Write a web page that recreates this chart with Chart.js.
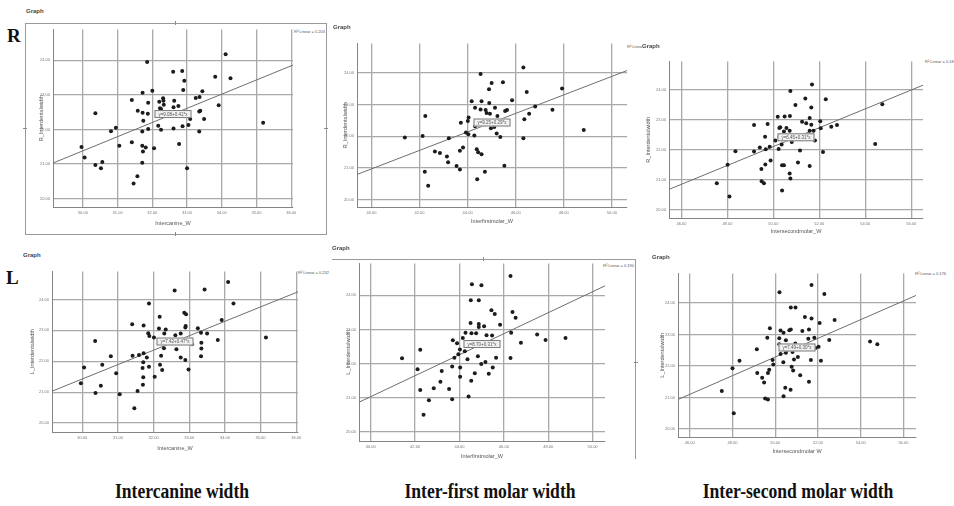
<!DOCTYPE html>
<html>
<head>
<meta charset="utf-8">
<script src="https://cdn.jsdelivr.net/npm/chart.js@4.4.1/dist/chart.umd.min.js"></script>
<style>
  body { margin: 0; background: #fff; width: 954px; height: 506px; position: relative; overflow: hidden; font-family: "Liberation Sans", Arial, sans-serif; }
  canvas, .t, .frame, .mark { position: absolute; }
  .big { font-family: "Liberation Serif", serif; font-weight: bold; font-size: 19px; line-height: 1; color: #111; }
  .cap { font-family: "Liberation Serif", serif; font-weight: bold; font-size: 20px; line-height: 1; color: #111; width: 300px; text-align: center; transform: scaleX(0.88); transform-origin: 150px 0; }
  .graph { font-size: 6px; font-weight: bold; line-height: 1; color: #444; background: #fff; padding-right: 1px; z-index: 2; }
  .leg { font-size: 4px; line-height: 1; color: #555; white-space: nowrap; }
  .frame { border-color: #9a9a9a; border-style: solid; border-width: 0; }
  .mark { background: #8a8a8a; }
</style>
</head>
<body>
<div class="t big" style="left:7px;top:26px">R</div>
<div class="t big" style="left:6px;top:268px">L</div>

<div class="t graph" style="left:26px;top:8px">Graph</div>
<div class="t graph" style="left:333px;top:24px">Graph</div>
<div class="t graph" style="left:642px;top:43px">Graph</div>
<div class="t graph" style="left:23px;top:252px">Graph</div>
<div class="t graph" style="left:332px;top:245px">Graph</div>
<div class="t graph" style="left:652px;top:254px">Graph</div>

<div class="t leg" style="left:294px;top:30px">R² Linear = 0.203</div>
<div class="t leg" style="left:627px;top:45px">R² Linear = 0.158</div>
<div class="t leg" style="left:925px;top:60px">R² Linear = 0.187</div>
<div class="t leg" style="left:298px;top:271px">R² Linear = 0.232</div>
<div class="t leg" style="left:603px;top:264px">R² Linear = 0.190</div>
<div class="t leg" style="left:915px;top:272px">R² Linear = 0.176</div>

<!-- editor frames around two of the graphs -->
<div class="frame" style="left:25px;top:23px;width:300px;height:210px;border-width:1px"></div>
<div class="mark" style="left:175px;top:21px;width:1px;height:4px"></div>
<div class="mark" style="left:175px;top:232px;width:1px;height:4px"></div>
<div class="mark" style="left:23px;top:128px;width:4px;height:1px"></div>
<div class="mark" style="left:324px;top:128px;width:4px;height:1px"></div>
<div class="frame" style="left:332px;top:259px;width:303px;height:199px;border-top-width:1px;border-right-width:1px"></div>
<div class="mark" style="left:483px;top:257px;width:1px;height:4px"></div>
<div class="mark" style="left:634px;top:362px;width:4px;height:1px"></div>

<div class="t cap" style="left:32px;top:481px">Intercanine width</div>
<div class="t cap" style="left:340px;top:481px">Inter-first molar width</div>
<div class="t cap" style="left:648px;top:481px">Inter-second molar width</div>

<script>
// tick labels
const canineTicks = [30, 31, 32, 33, 34, 35, 36]
const firstMolarTicks = [40, 42, 44, 46, 48, 50]
const secondMolarTicks = [46, 48, 50, 52, 54, 56]
const sideTicks = [20, 21, 22, 23, 24]

// right side
const rCanineX = [34.11, 31.85, 32.60, 32.86, 32.92, 33.81, 34.25, 32.00, 31.72, 32.89, 33.44, 33.36, 33.25, 31.41, 31.88, 32.31, 32.32, 32.20, 32.33, 32.63, 32.75, 32.61, 33.91, 30.36, 31.58, 31.72, 31.87, 32.25, 32.22, 33.35, 33.38, 33.49, 33.09, 31.74, 35.19, 30.95, 30.81, 31.88, 31.71, 32.17, 32.25, 32.61, 32.87, 33.04, 33.35, 29.96, 31.05, 31.41, 31.71, 31.81, 32.05, 31.73, 32.77, 30.05, 30.36, 30.56, 30.52, 31.71, 33.00, 31.57, 31.46]
const rCanineY = [24.17, 23.95, 23.67, 23.69, 23.41, 23.52, 23.48, 23.12, 23.06, 23.14, 23.10, 22.94, 22.91, 22.85, 22.77, 22.90, 22.83, 22.80, 22.71, 22.83, 22.68, 22.64, 22.70, 22.47, 22.54, 22.48, 22.45, 22.59, 22.61, 22.52, 22.54, 22.30, 22.30, 22.25, 22.19, 22.05, 21.95, 22.01, 21.94, 22.11, 21.99, 22.03, 22.09, 22.13, 21.94, 21.49, 21.53, 21.63, 21.53, 21.48, 21.46, 21.36, 21.58, 21.19, 20.97, 21.06, 20.88, 21.04, 20.88, 20.65, 20.44]
const rCanineFitX = [29.14, 36.05]
const rCanineFitY = [21.03, 23.86]

const rFirstX = [46.32, 44.54, 45.00, 45.47, 44.89, 46.46, 47.93, 44.17, 44.58, 44.90, 45.85, 46.81, 47.53, 44.31, 44.54, 44.75, 45.14, 44.79, 44.93, 45.24, 45.56, 45.64, 42.24, 44.04, 43.72, 44.01, 46.36, 46.56, 44.31, 44.97, 45.11, 48.83, 41.39, 42.13, 43.22, 43.93, 44.03, 44.28, 45.21, 45.36, 46.32, 42.64, 42.85, 43.14, 43.19, 43.68, 43.81, 44.38, 44.44, 44.58, 43.54, 43.68, 45.53, 42.22, 44.72, 44.40, 42.36]
const rFirstY = [24.18, 23.97, 23.69, 23.71, 23.49, 23.40, 23.51, 23.11, 23.11, 23.05, 23.14, 22.94, 22.84, 22.90, 22.85, 22.83, 22.90, 22.74, 22.71, 22.64, 22.80, 22.83, 22.64, 22.59, 22.43, 22.48, 22.54, 22.71, 22.32, 22.25, 22.29, 22.20, 21.96, 22.01, 21.94, 22.12, 22.06, 22.02, 22.09, 21.98, 21.94, 21.52, 21.47, 21.36, 21.18, 21.54, 21.64, 21.59, 21.49, 21.43, 21.06, 20.95, 21.07, 20.88, 20.88, 20.64, 20.43]
const rFirstFitX = [39.40, 50.63]
const rFirstFitY = [20.79, 24.08]

const rSecondX = [51.68, 50.74, 51.39, 52.28, 50.96, 51.65, 54.74, 50.19, 50.49, 50.72, 51.58, 51.25, 51.43, 51.65, 52.04, 49.16, 49.75, 50.26, 50.30, 50.57, 50.71, 50.46, 51.58, 51.75, 52.06, 52.52, 52.77, 49.64, 50.26, 50.39, 50.80, 51.81, 54.43, 48.35, 49.16, 49.41, 49.67, 49.84, 50.09, 50.23, 50.36, 51.16, 52.16, 48.01, 49.65, 49.88, 49.48, 50.38, 50.46, 51.07, 51.58, 47.54, 49.49, 49.59, 50.71, 50.74, 50.38, 48.09]
const rSecondY = [24.16, 23.95, 23.70, 23.67, 23.48, 23.40, 23.51, 23.09, 23.10, 23.12, 23.05, 22.93, 22.88, 22.83, 22.94, 22.82, 22.85, 22.72, 22.74, 22.72, 22.63, 22.60, 22.63, 22.63, 22.71, 22.76, 22.82, 22.43, 22.43, 22.39, 22.25, 22.30, 22.19, 21.95, 21.94, 22.07, 22.01, 22.10, 22.30, 22.02, 22.17, 21.97, 21.92, 21.50, 21.51, 21.64, 21.36, 21.48, 21.48, 21.57, 21.46, 20.88, 20.95, 20.88, 21.21, 21.04, 20.64, 20.44]
const rSecondFitX = [45.46, 56.51]
const rSecondFitY = [20.68, 24.14]

// left side
const lCanineX = [34.09, 32.59, 33.43, 31.87, 34.24, 32.86, 32.91, 32.17, 33.91, 31.40, 31.72, 32.90, 32.89, 32.15, 32.34, 33.24, 31.85, 31.88, 32.01, 32.30, 32.61, 32.76, 33.33, 33.50, 30.36, 33.80, 35.15, 32.31, 32.55, 33.08, 33.34, 32.64, 33.34, 32.29, 31.72, 31.41, 31.59, 31.81, 32.21, 33.33, 32.76, 32.89, 30.80, 30.05, 30.56, 31.71, 31.69, 31.87, 32.18, 32.24, 32.98, 30.95, 31.71, 32.03, 29.96, 30.52, 31.70, 30.37, 31.05, 31.55, 31.46]
const lCanineY = [24.57, 24.29, 24.32, 23.87, 23.87, 23.57, 23.52, 23.44, 23.34, 23.20, 23.16, 23.14, 23.09, 23.06, 23.03, 23.07, 22.91, 22.82, 22.77, 22.90, 22.84, 22.90, 22.92, 22.90, 22.66, 22.69, 22.77, 22.66, 22.63, 22.55, 22.60, 22.39, 22.41, 22.42, 22.26, 22.18, 22.20, 22.12, 22.18, 22.16, 22.12, 22.04, 22.16, 21.80, 21.89, 21.97, 21.78, 21.82, 21.89, 21.72, 21.73, 21.61, 21.48, 21.50, 21.29, 21.21, 21.24, 20.97, 20.93, 21.04, 20.48]
const lCanineFitX = [29.15, 36.05]
const lCanineFitY = [21.03, 24.25]

const lFirstX = [46.30, 44.56, 44.99, 44.51, 44.87, 45.44, 45.59, 46.39, 46.53, 44.50, 44.87, 45.11, 44.87, 45.83, 46.33, 44.27, 44.54, 44.75, 45.22, 45.47, 44.15, 47.50, 47.88, 48.78, 46.77, 43.70, 43.89, 44.02, 44.24, 42.23, 45.05, 41.41, 43.77, 43.95, 44.36, 44.83, 45.17, 44.98, 45.65, 46.30, 42.11, 43.20, 43.67, 44.03, 45.50, 44.69, 45.32, 44.03, 43.14, 44.53, 42.23, 42.84, 43.53, 42.62, 43.67, 44.41, 42.38]
const lFirstY = [24.57, 24.33, 24.30, 23.86, 23.86, 23.56, 23.45, 23.51, 23.34, 23.19, 23.16, 23.09, 23.07, 23.14, 22.90, 22.90, 22.89, 22.89, 22.83, 22.82, 22.75, 22.85, 22.69, 22.75, 22.61, 22.68, 22.59, 22.41, 22.36, 22.40, 22.54, 22.15, 22.17, 22.27, 22.12, 22.21, 22.04, 21.98, 22.17, 22.16, 21.83, 21.78, 21.91, 21.88, 21.88, 21.71, 21.70, 21.61, 21.46, 21.49, 21.22, 21.27, 21.25, 20.92, 20.95, 21.03, 20.49]
const lFirstFitX = [39.47, 50.56]
const lFirstFitY = [20.86, 24.28]

const lSecondX = [51.70, 50.20, 52.30, 50.73, 50.95, 51.39, 51.70, 52.78, 52.08, 49.75, 50.25, 50.39, 50.66, 50.73, 51.27, 51.58, 49.63, 50.19, 50.50, 51.55, 51.83, 52.53, 54.44, 54.78, 49.14, 50.19, 50.42, 50.94, 51.16, 51.63, 50.25, 50.50, 50.81, 51.88, 52.03, 48.33, 48.00, 49.88, 49.91, 50.38, 50.88, 51.06, 51.67, 52.14, 49.16, 49.39, 49.48, 49.66, 49.72, 50.77, 50.84, 51.17, 51.58, 47.50, 50.47, 50.72, 50.39, 49.53, 49.66, 48.06]
const lSecondY = [24.57, 24.34, 24.29, 23.86, 23.86, 23.56, 23.51, 23.46, 23.37, 23.20, 23.13, 23.06, 23.14, 23.16, 23.11, 23.16, 22.90, 22.88, 22.82, 22.87, 22.90, 22.83, 22.78, 22.69, 22.53, 22.69, 22.61, 22.72, 22.59, 22.61, 22.38, 22.42, 22.45, 22.57, 22.61, 22.17, 21.93, 22.19, 22.05, 22.12, 22.21, 22.29, 22.19, 22.17, 21.78, 21.63, 21.48, 21.78, 21.88, 21.98, 21.86, 21.71, 21.50, 21.21, 21.31, 21.25, 21.04, 20.97, 20.94, 20.50]
const lSecondFitX = [45.45, 56.59]
const lSecondFitY = [20.94, 24.24]

const FONT = '"Liberation Sans", Arial, sans-serif'

// where each plot area sits on the page, and its axis ranges
const panels = [
  { left: 53, top: 28, right: 293, bottom: 207, yw: 15, xh: 20, xs: rCanineX, ys: rCanineY, fx: rCanineFitX, fy: rCanineFitY, xTicks: canineTicks, xMin: 29.14, xMax: 36.05, yMin: 19.76, yMax: 24.89, xTitle: 'Intercanine_W', yTitle: 'R_Interdentalwidth', eq: 'y=9.08+0.41*x' },
  { left: 357, top: 42, right: 627, bottom: 207, yw: 15, xh: 18, xs: rFirstX, ys: rFirstY, fx: rFirstFitX, fy: rFirstFitY, xTicks: firstMolarTicks, xMin: 39.40, xMax: 50.63, yMin: 19.76, yMax: 24.94, xTitle: 'Interfirstmolar_W', yTitle: 'R_Interdentalwidth', eq: 'y=9.25+0.29*x' },
  { left: 669, top: 60, right: 923, bottom: 218, yw: 24, xh: 17, xs: rSecondX, ys: rSecondY, fx: rSecondFitX, fy: rSecondFitY, xTicks: secondMolarTicks, xMin: 45.46, xMax: 56.51, yMin: 19.73, yMax: 24.93, xTitle: 'Intersecondmolar_W', yTitle: 'R_Interdentalwidth', eq: 'y=6.45+0.31*x' },
  { left: 52, top: 270, right: 298, bottom: 432, yw: 23, xh: 20, xs: lCanineX, ys: lCanineY, fx: lCanineFitX, fy: lCanineFitY, xTicks: canineTicks, xMin: 29.15, xMax: 36.05, yMin: 19.71, yMax: 24.91, xTitle: 'Intercanine_W', yTitle: 'L_Interdentalwidth', eq: 'y=7.42+0.47*x' },
  { left: 359, top: 262, right: 605, bottom: 441, yw: 14, xh: 19, xs: lFirstX, ys: lFirstY, fx: lFirstFitX, fy: lFirstFitY, xTicks: firstMolarTicks, xMin: 39.47, xMax: 50.56, yMin: 19.72, yMax: 24.94, xTitle: 'Interfirstmolar_W', yTitle: 'L_Interdentalwidth', eq: 'y=8.70+0.31*x' },
  { left: 678, top: 272, right: 916, bottom: 437, yw: 19, xh: 18, xs: lSecondX, ys: lSecondY, fx: lSecondFitX, fy: lSecondFitY, xTicks: secondMolarTicks, xMin: 45.45, xMax: 56.59, yMin: 19.75, yMax: 24.94, xTitle: 'Intersecondmolar W', yTitle: 'L_Interdentalwidth', eq: 'y=7.49+0.30*x' }
]

// boxed equation label in the middle of the fit line
const eqBox = {
  id: 'eqBox',
  afterDatasetsDraw (chart, args, opts) {
    const { ctx, scales } = chart
    const fit = chart.data.datasets[1].data
    const px = scales.x.getPixelForValue((fit[0].x + fit[1].x) / 2)
    const py = scales.y.getPixelForValue((fit[0].y + fit[1].y) / 2)
    ctx.save()
    ctx.font = '4.5px ' + FONT
    const w = ctx.measureText(opts.text).width + 8
    const h = 8
    ctx.fillStyle = '#f2f2f2'
    ctx.strokeStyle = '#7a7a7a'
    ctx.lineWidth = 1
    ctx.fillRect(px - w / 2, py - h / 2, w, h)
    ctx.strokeRect(px - w / 2 + 0.5, py - h / 2 + 0.5, w - 1, h - 1)
    ctx.fillStyle = '#555'
    ctx.textAlign = 'center'
    ctx.textBaseline = 'middle'
    ctx.fillText(opts.text, px, py + 0.5)
    ctx.restore()
  }
}

function makePanel (p) {
  const c = document.createElement('canvas')
  c.width = p.right - p.left + p.yw + 10
  c.height = p.bottom - p.top + 4 + p.xh
  c.style.left = (p.left - p.yw) + 'px'
  c.style.top = (p.top - 4) + 'px'
  document.body.appendChild(c)

  const points = p.xs.map((x, i) => ({ x: x, y: p.ys[i] }))
  const fit = p.fx.map((x, i) => ({ x: x, y: p.fy[i] }))

  return new Chart(c.getContext('2d'), {
    type: 'scatter',
    data: {
      datasets: [
        { data: points, pointRadius: 2, pointBackgroundColor: '#1c1c1c', pointBorderWidth: 0 },
        { data: fit, showLine: true, pointRadius: 0, borderColor: '#6e6e6e', borderWidth: 1 }
      ]
    },
    plugins: [eqBox],
    options: {
      responsive: false,
      animation: false,
      layout: { padding: { left: 0, top: 4, right: 10, bottom: 0 } },
      plugins: {
        legend: { display: false },
        tooltip: { enabled: false },
        eqBox: { text: p.eq }
      },
      scales: {
        x: {
          type: 'linear',
          min: p.xMin,
          max: p.xMax,
          afterBuildTicks: s => { s.ticks = p.xTicks.map(v => ({ value: v })) },
          afterFit: s => { s.height = p.xh },
          grid: { color: '#a9a9a9', lineWidth: 1.3, drawTicks: false },
          border: { color: '#858585', width: 1 },
          ticks: { font: { size: 4, family: FONT }, color: '#777', padding: 3, maxRotation: 0, callback: v => v.toFixed(2) },
          title: { display: true, text: p.xTitle, font: { size: 5.5, family: FONT }, color: '#555', padding: 0 }
        },
        y: {
          type: 'linear',
          min: p.yMin,
          max: p.yMax,
          afterBuildTicks: s => { s.ticks = sideTicks.map(v => ({ value: v })) },
          afterFit: s => { s.width = p.yw },
          grid: { color: '#a9a9a9', lineWidth: 1.3, drawTicks: false },
          border: { color: '#858585', width: 1 },
          ticks: { font: { size: 4, family: FONT }, color: '#777', padding: 3, callback: v => v.toFixed(2) },
          title: { display: true, text: p.yTitle, font: { size: 5.5, family: FONT }, color: '#555', padding: 0 }
        }
      }
    }
  })
}

panels.forEach(makePanel)
</script>
</body>
</html>
